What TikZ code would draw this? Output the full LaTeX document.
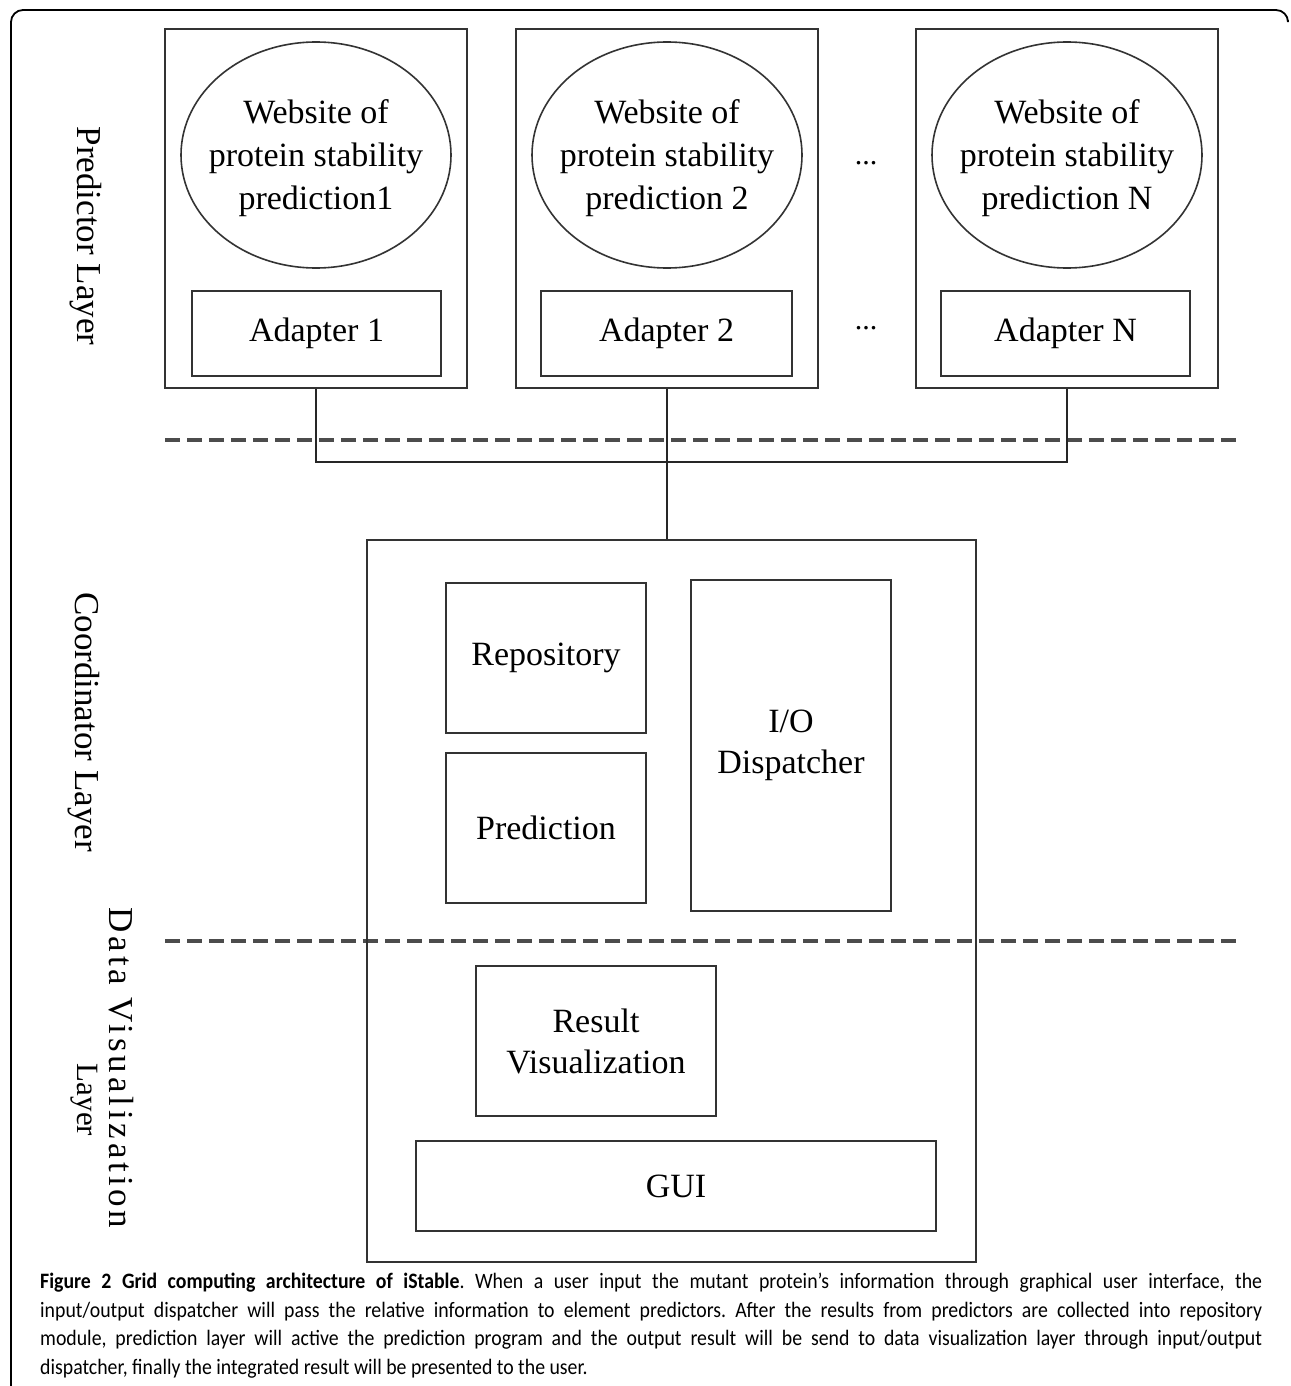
\documentclass[tikz,border=0pt]{standalone}
\usepackage{fontspec}
\setmainfont{Liberation Serif}
\newfontfamily\capfont[FakeStretch=0.9]{Carlito}
\usetikzlibrary{shapes.geometric}
\begin{document}
\begin{tikzpicture}[x=1pt,y=-1pt,
  every node/.style={inner sep=0pt},
  frameline/.style={line width=1.8pt,black},
  boxline/.style={draw=black!80,line width=2pt},
  modbox/.style={boxline,font=\fontsize{34}{41}\selectfont,align=center},
  site/.style={draw=black!80,line width=1.6pt,ellipse,minimum width=270pt,minimum height=226pt},
  sitetext/.style={font=\fontsize{34}{43}\selectfont,align=center},
  wire/.style={draw=black!85,line width=1.6pt},
  layersep/.style={draw=black!70,line width=3.5pt,dash pattern=on 14.5pt off 7.5pt},
  layerlabel/.style={rotate=-90,font=\fontsize{35}{42}\selectfont,align=center},
  dots/.style={font=\fontsize{30}{36}\selectfont}]
\useasboundingbox (0,0) rectangle (1290,1386);
\fill[white] (0,0) rectangle (1290,1386);

% frame around figure and caption
\draw[frameline,rounded corners=12pt] (11,1386) -- (11,10) -- (1288,10) -- (1288,20);

% predictor columns
\foreach \i/\cx/\lab in {1/316/{prediction1},2/667/{prediction 2},3/1067/{prediction N}}{
  \node[boxline,minimum width=302pt,minimum height=359pt] (col\i) at (\cx,208.5) {};
  \node[site] (site\i) at (\cx,155) {};
  \node[sitetext] (sitetext\i) at (\cx,158) {Website of\\protein stability\\\lab};
}
\node[modbox,minimum width=249pt,minimum height=85pt] (ad1) at (316.5,333.5) {Adapter 1};
\node[modbox,minimum width=251pt,minimum height=85pt] (ad2) at (666.5,333.5) {Adapter 2};
\node[modbox,minimum width=249pt,minimum height=85pt] (ad3) at (1065.5,333.5) {Adapter N};
\node[dots] (dotsA) at (866,163) {...};
\node[dots] (dotsB) at (866,328) {...};

% layer separators
\coordinate (sepAl) at (165,440);
\coordinate (sepAr) at (1240,440);
\coordinate (sepBl) at (165,941);
\coordinate (sepBr) at (1240,941);
\draw[layersep] (sepAl) -- (sepAr);
\draw[layersep] (sepBl) -- (sepBr);

% coordinator block
\node[boxline,minimum width=609pt,minimum height=722pt] (coord) at (671.5,901) {};
\node[modbox,minimum width=200pt,minimum height=150pt] (repo) at (546,658) {Repository};
\node[modbox,minimum width=200pt,minimum height=150pt] (pred) at (546,828) {Prediction};
\node[modbox,minimum width=200pt,minimum height=331pt] (iod) at (791,745.5) {I/O\\Dispatcher};
\node[modbox,minimum width=240pt,minimum height=150pt] (rviz) at (596,1041) {Result\\Visualization};
\node[modbox,minimum width=520pt,minimum height=90pt] (gui) at (676,1186) {GUI};

% bus between adapters and coordinator
\coordinate (bus) at (667,462);
\draw[wire] (col1.south) |- (bus) -| (col3.south);
\draw[wire] (col2.south) -- (col2.south |- coord.north);

% layer names
\node[layerlabel] (lpred) at (86,236) {Predictor Layer};
\node[layerlabel] (lcoord) at (84,722) {Coordinator Layer};
\node[layerlabel,font=\fontsize{35}{42}\selectfont\addfontfeature{LetterSpace=11}] (ldata1) at (121,1068) {Data Visualization};
\node[layerlabel,font=\fontsize{31}{37}\selectfont] (ldata2) at (84,1100) {Layer};

% caption
\node[anchor=north west,text width=1222pt,align=justify,
  font=\capfont\fontsize{22}{28.5}\selectfont\frenchspacing] (caption) at (40,1273)
{\textbf{Figure 2 Grid computing architecture of iStable}. When a user input the mutant protein’s information through graphical user interface, the\linebreak
input/output dispatcher will pass the relative information to element predictors. After the results from predictors are collected into repository\linebreak
module, prediction layer will active the prediction program and the output result will be send to data visualization layer through input/output\linebreak
dispatcher, finally the integrated result will be presented to the user.};
\end{tikzpicture}
\end{document}
